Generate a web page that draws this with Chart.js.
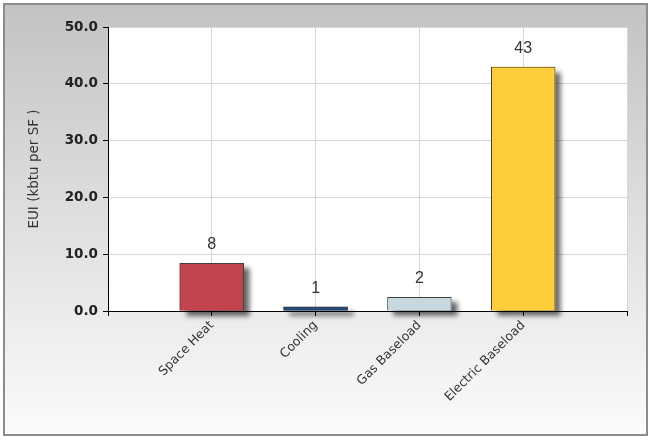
<!DOCTYPE html>
<html><head><meta charset="utf-8">
<script src="https://cdn.jsdelivr.net/npm/chart.js@4"></script>
<style>html,body{margin:0;padding:0;background:#fff}canvas{display:block}</style>
</head><body>
<canvas id="c" width="651" height="440"></canvas>
<script>
const categories = ['', 'Space Heat', 'Cooling', 'Gas Baseload', 'Electric Baseload', ''];
const euiValues = [null, 8.45, 0.75, 2.45, 43.0, null];
const valueLabels = ['', '8', '1', '2', '43', ''];
const barColors = ['#000000', '#c1444e', '#264a78', '#c7d9df', '#fecd3a', '#000000'];
const yMin = 0, yMax = 50, yStep = 10;
const yTitle = 'EUI (kbtu per SF )';

const bgPlugin = {
  id: 'bg',
  beforeDraw(chart) {
    const ctx = chart.ctx, W = chart.width, H = chart.height, a = chart.chartArea;
    ctx.save();
    ctx.fillStyle = '#ffffff'; ctx.fillRect(0, 0, W, H);
    ctx.fillStyle = '#8c8c8c'; ctx.fillRect(3, 3, 645, 433);
    const g = ctx.createLinearGradient(0, 5, 0, 434);
    g.addColorStop(0, '#c3c3c3'); g.addColorStop(1, '#fbfbfb');
    ctx.fillStyle = g; ctx.fillRect(5, 5, 641, 429);
    ctx.fillStyle = '#ffffff'; ctx.fillRect(a.left, a.top, a.right - a.left, a.bottom - a.top);
    ctx.restore();
  }
};

const shadowPlugin = {
  id: 'barShadow',
  beforeDatasetsDraw(chart) {
    const ctx = chart.ctx;
    const meta = chart.getDatasetMeta(0);
    ctx.save();
    ctx.shadowColor = 'rgba(0,0,0,0.6)';
    ctx.shadowOffsetX = 6; ctx.shadowOffsetY = 5; ctx.shadowBlur = 5;
    meta.data.forEach((bar, i) => {
      if (euiValues[i] == null) return;
      const p = bar.getProps(['x', 'y', 'base', 'width'], true);
      ctx.fillStyle = barColors[i];
      ctx.fillRect(p.x - p.width / 2, p.y, p.width, p.base - p.y);
    });
    ctx.restore();
  }
};

const labelPlugin = {
  id: 'valueLabels',
  afterDatasetsDraw(chart) {
    const ctx = chart.ctx;
    const meta = chart.getDatasetMeta(0);
    ctx.save();
    ctx.font = '16px "Liberation Sans", Arial, sans-serif';
    ctx.fillStyle = '#333333';
    ctx.textAlign = 'center'; ctx.textBaseline = 'bottom';
    meta.data.forEach((bar, i) => {
      if (euiValues[i] == null) return;
      const p = bar.getProps(['x', 'y'], true);
      ctx.fillText(valueLabels[i], p.x, p.y - 10);
    });
    ctx.restore();
  }
};

new Chart(document.getElementById('c'), {
  type: 'bar',
  data: {
    labels: categories,
    datasets: [{
      data: euiValues,
      backgroundColor: barColors,
      borderColor: '#404040',
      borderWidth: 1,
      barPercentage: 0.62,
      categoryPercentage: 1.0,
      clip: false
    }]
  },
  options: {
    responsive: false,
    animation: false,
    devicePixelRatio: 1,
    layout: { padding: { left: 0, right: 24, top: 27, bottom: 0 } },
    plugins: { legend: { display: false }, tooltip: { enabled: false } },
    scales: {
      x: {
        offset: false,
        grid: { offset: false, color: '#d6d6d6', tickColor: '#000000', tickLength: 5, drawTicks: true },
        border: { color: '#000000', width: 1 },
        ticks: {
          autoSkip: false, maxRotation: 45, minRotation: 45, padding: 2,
          color: '#333333', font: { family: '"DejaVu Sans", Verdana, sans-serif', size: 12.5 }
        },
        afterFit(s) { s.height = 129; }
      },
      y: {
        min: yMin, max: yMax,
        grid: { color: '#d6d6d6', tickColor: '#000000', tickLength: 5 },
        border: { color: '#000000', width: 1 },
        ticks: {
          stepSize: yStep, padding: 5, color: '#222222',
          font: { family: '"DejaVu Sans", Verdana, sans-serif', size: 13.5, weight: 'bold' },
          callback: v => Number(v).toFixed(1)
        },
        title: {
          display: true, text: yTitle, color: '#333333',
          font: { family: '"DejaVu Sans", Verdana, sans-serif', size: 13.5 },
          padding: { top: 26, bottom: 0 }
        },
        afterFit(s) { s.width = 108; }
      }
    }
  },
  plugins: [bgPlugin, shadowPlugin, labelPlugin]
});
</script>
</body></html>
